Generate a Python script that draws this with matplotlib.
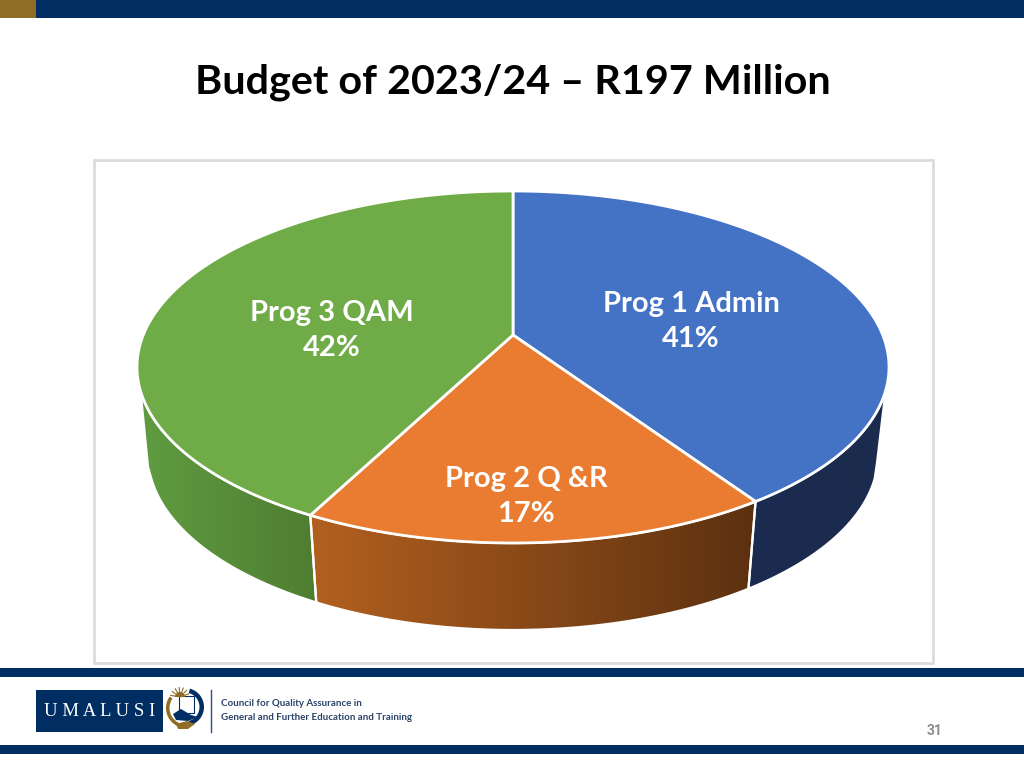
import numpy as np
import matplotlib
matplotlib.use("Agg")
import matplotlib.pyplot as plt
from matplotlib.patches import Polygon, Rectangle, Wedge
from matplotlib.colors import LinearSegmentedColormap

# shares, they round to the printed percentages
names = ["Prog 1 Admin", "Prog 2 Q &R", "Prog 3 QAM"]
shares = [40.6, 17.0, 42.4]
top_colors = ["#4472c4", "#e97c30", "#6fac47"]
side_left = ["#1a2b50", "#b3601f", "#5f9c40"]
side_right = ["#1c2b4e", "#5c3110", "#4f7d31"]
label_xy = [(691, 303), (526, 478), (332, 312)]

title = "Budget of 2023/24 \u2013 R197 Million"
footer_lines = ["Council for Quality Assurance in", "General and Further Education and Training"]
page_no = "31"

NAVY = "#002d62"
GOLD = "#8f6d24"

# pie geometry in pixels
cx, cy, rx, ry = 513, 367, 376, 176
bcy, brx, bry = 455, 365, 175
tilt = 0.182  # moves the apex up, like the perspective of a 3D pie

plt.rcParams["font.family"] = ["Lato", "DejaVu Sans"]


def project(angle):
    # angle clockwise from 12 o'clock, gives unit-ellipse coordinates
    u, v = np.sin(angle), np.cos(angle)
    den = 1 + tilt * v
    return u * np.sqrt(1 - tilt ** 2) / den, (v + tilt) / den


fig = plt.figure(figsize=(10.24, 7.66), dpi=100)
ax = fig.add_axes([0, 0, 1, 1])

# slide furniture
ax.add_patch(Rectangle((0, 0), 1024, 18, color=NAVY, lw=0))
ax.add_patch(Rectangle((0, 0), 36, 18, color=GOLD, lw=0))
ax.add_patch(Rectangle((0, 668), 1024, 9, color=NAVY, lw=0))
ax.add_patch(Rectangle((0, 745), 1024, 9, color=NAVY, lw=0))
ax.add_patch(Rectangle((93.5, 159.5), 839, 503, fc="white", ec="#dcdcdc", lw=2))
ax.text(513, 82, title, ha="center", va="center", fontsize=29.8, fontweight="bold", color="black")

edges = np.cumsum([0] + shares) / sum(shares) * 2 * np.pi

# side walls first, only the part of each slice facing the viewer
for i in range(len(shares)):
    start, stop = edges[i], edges[i + 1]
    th = np.linspace(start, stop, 200)
    u, v = project(th)
    keep = v < -0.13
    if keep.sum() < 2:
        continue
    u, v = u[keep], v[keep]
    top = np.column_stack([cx + rx * u, cy - ry * v])
    low = np.column_stack([cx + brx * u, bcy - bry * v])
    verts = np.vstack([top, low[::-1]])
    if i == 0:
        # wall ends in a straight run down at the outer edge
        verts = np.vstack([top, low[::-1], [[877, 463]]])
    if i == 2:
        verts = np.vstack([top, [[148, 467]], low[::-1]])
    poly = Polygon(verts, closed=True, fc="none", ec="white", lw=1.6, zorder=3)
    ax.add_patch(poly)
    cmap = LinearSegmentedColormap.from_list("side", [side_left[i], side_right[i]])
    x0, x1 = verts[:, 0].min(), verts[:, 0].max()
    y0, y1 = verts[:, 1].min(), verts[:, 1].max()
    grad = ax.imshow(np.linspace(0, 1, 256)[None, :], cmap=cmap, extent=(x0, x1, y1, y0),
                     aspect="auto", zorder=2)
    grad.set_clip_path(poly)

# top faces
apex = [cx, cy - ry * tilt]
for i in range(len(shares)):
    th = np.linspace(edges[i], edges[i + 1], 300)
    u, v = project(th)
    arc = np.column_stack([cx + rx * u, cy - ry * v])
    ax.add_patch(Polygon(np.vstack([[apex], arc]), closed=True, fc=top_colors[i], ec="white",
                         lw=2, joinstyle="round", zorder=4))
    pct = f"{round(shares[i])}%"
    x, y = label_xy[i]
    ax.text(x, y + 1, names[i], ha="center", va="center", fontsize=21, fontweight="bold",
            color="white", zorder=5)
    ax.text(x, y + 36, pct, ha="center", va="center", fontsize=21, fontweight="bold",
            color="white", zorder=5)

# logo
ax.add_patch(Rectangle((36, 690), 127, 42, color=NAVY, lw=0))
ax.text(99.5, 711, "U M A L U S I", ha="center", va="center", fontsize=13.5, color="white",
        family="Liberation Serif")
ax.add_patch(Wedge((185, 707), 19, -75, 75, width=4.5, color=NAVY, lw=0))
ax.add_patch(Wedge((186, 708), 20, 85, 215, width=3.5, color=GOLD, lw=0))
ax.add_patch(Polygon([[179, 696], [194, 696], [194, 713], [179, 713]], closed=True, fc="white",
                     ec=NAVY, lw=0.8))
ax.add_patch(Polygon([[173, 714], [181, 709], [191, 715], [198, 717], [188, 721], [176, 720]],
                     closed=True, color=NAVY, lw=0))
ax.add_patch(Polygon([[176, 724], [187, 721], [195, 724], [188, 729], [178, 729]],
                     closed=True, color=GOLD, lw=0))
ax.add_patch(Wedge((180, 697), 5, 180, 360, color=GOLD, lw=0))
for ang in np.radians([190, 215, 240, 265, 290, 315, 340]):
    ax.plot([180 + 5 * np.cos(ang), 180 + 9.5 * np.cos(ang)],
            [697 + 5 * np.sin(ang), 697 + 9.5 * np.sin(ang)], color=GOLD, lw=0.8)
ax.plot([210.5, 210.5], [690, 732], color="#30507c", lw=1)
for y, line in zip([703, 717], footer_lines):
    ax.text(221, y, line, ha="left", va="center", fontsize=7, fontweight="bold", color="#2a4468",
            family="Lato")

ax.text(934.5, 731, page_no, ha="center", va="center", fontsize=10, fontweight="bold", color="#8c8c8c",
        family="Roboto")

ax.set_xlim(0, 1024)
ax.set_ylim(766, 0)
ax.axis("off")
fig.savefig("out.png", dpi=100)
